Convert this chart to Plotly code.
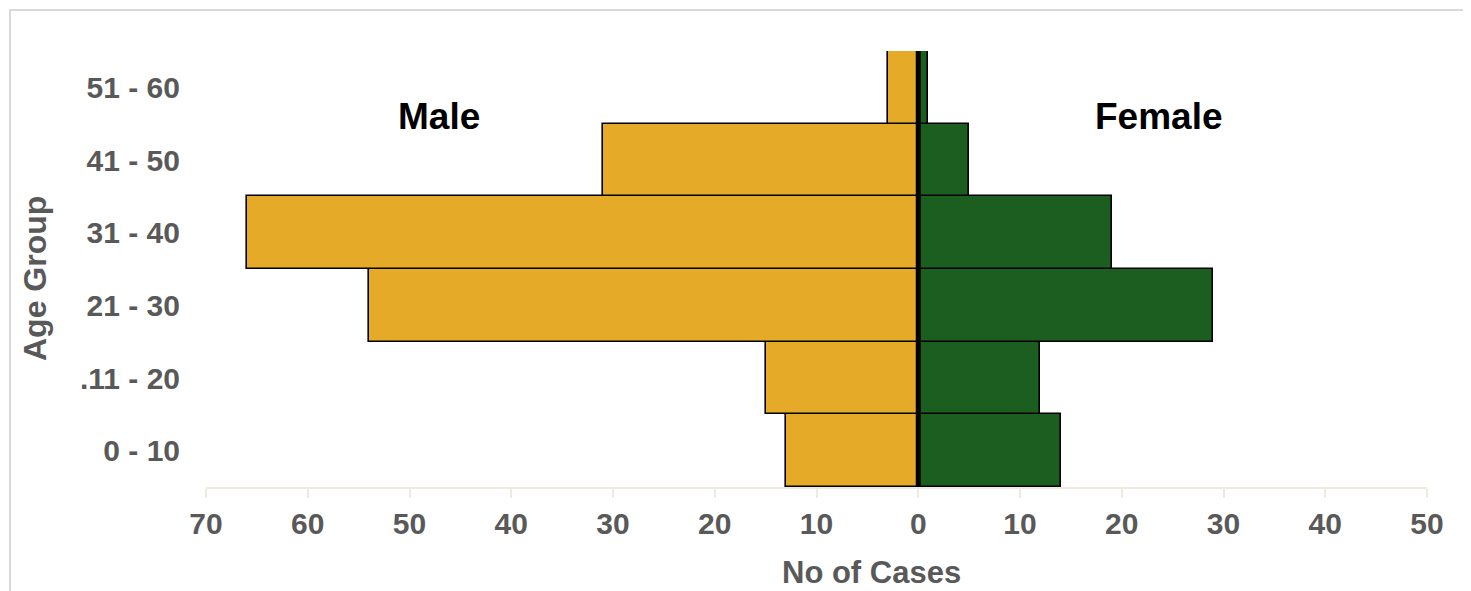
import plotly.graph_objects as go

age_groups = ["0 - 10", ".11 - 20", "21 - 30", "31 - 40", "41 - 50", "51 - 60"]
male_cases = [13, 15, 54, 66, 31, 3]
female_cases = [14, 12, 29, 19, 5, 1]
x_tick_values = [-70, -60, -50, -40, -30, -20, -10, 0, 10, 20, 30, 40, 50]
x_tick_labels = ["70", "60", "50", "40", "30", "20", "10", "0", "10", "20", "30", "40", "50"]

GOLD = "#E5AA27"
GREEN = "#1C5E20"
GRAY = "#595959"
FONT = "Liberation Sans, Arial, sans-serif"

# page has an 8px body margin; plot area in page px: x 206..1427, y 51..487
W, H = 1463, 583
OFF = 8
PL, PR, PT, PB = 206, 1427, 51, 487

fig = go.Figure()
fig.add_trace(go.Bar(
    y=age_groups, x=[-v for v in male_cases], orientation="h", name="Male",
    marker=dict(color=GOLD, line=dict(color="black", width=1.6)),
))
fig.add_trace(go.Bar(
    y=age_groups, x=female_cases, orientation="h", name="Female",
    marker=dict(color=GREEN, line=dict(color="black", width=1.6)),
))

fig.update_layout(
    width=W, height=H,
    margin=dict(l=PL - OFF, r=W - (PR - OFF), t=PT - OFF, b=H - (PB - OFF)),
    barmode="relative", bargap=0,
    showlegend=False,
    plot_bgcolor="white", paper_bgcolor="white",
    font=dict(family=FONT, color=GRAY, size=29, weight="bold"),
)
fig.update_xaxes(
    range=[-70, 50], tickvals=x_tick_values, ticktext=x_tick_labels,
    showgrid=False, zeroline=False,
    showline=True, linecolor="#EEEADF", linewidth=2,
    ticks="outside", ticklen=9, tickwidth=2, tickcolor="#EEEADF",
    tickfont=dict(family=FONT, color=GRAY, size=30, weight="bold"),
)
fig.update_yaxes(
    showgrid=False, zeroline=False, showline=False,
    ticks="outside", ticklen=19, tickcolor="rgba(0,0,0,0)",
    tickfont=dict(family=FONT, color=GRAY, size=30, weight="bold"),
)

pw, ph = PR - PL, PB - PT
def px_x(px):
    return (px - PL) / pw
def px_y(py):
    return (PB - py) / ph

# centre line
fig.add_shape(type="line", xref="x", yref="paper", x0=0, x1=0, y0=0, y1=1,
              line=dict(color="black", width=5))
# chart frame
fig.add_shape(type="rect", xref="paper", yref="paper",
              x0=px_x(10), x1=px_x(1467), y0=px_y(640), y1=px_y(10),
              line=dict(color="#D9D9D9", width=2), layer="below")

common = dict(showarrow=False, xanchor="center", yanchor="middle")
fig.add_annotation(text="Male", x=-47.1, y=px_y(117), xref="x", yref="paper",
                   font=dict(family=FONT, color="black", size=37, weight="bold"), **common)
fig.add_annotation(text="Female", x=23.7, y=px_y(117), xref="x", yref="paper",
                   font=dict(family=FONT, color="black", size=37, weight="bold"), **common)
fig.add_annotation(text="No of Cases", x=px_x(871), y=px_y(572), xref="paper", yref="paper",
                   font=dict(family=FONT, color=GRAY, size=31, weight="bold"), **common)
fig.add_annotation(text="Age Group", x=px_x(35), y=px_y(279), xref="paper", yref="paper",
                   textangle=-90,
                   font=dict(family=FONT, color=GRAY, size=32, weight="bold"), **common)

fig.write_html("out.html")
